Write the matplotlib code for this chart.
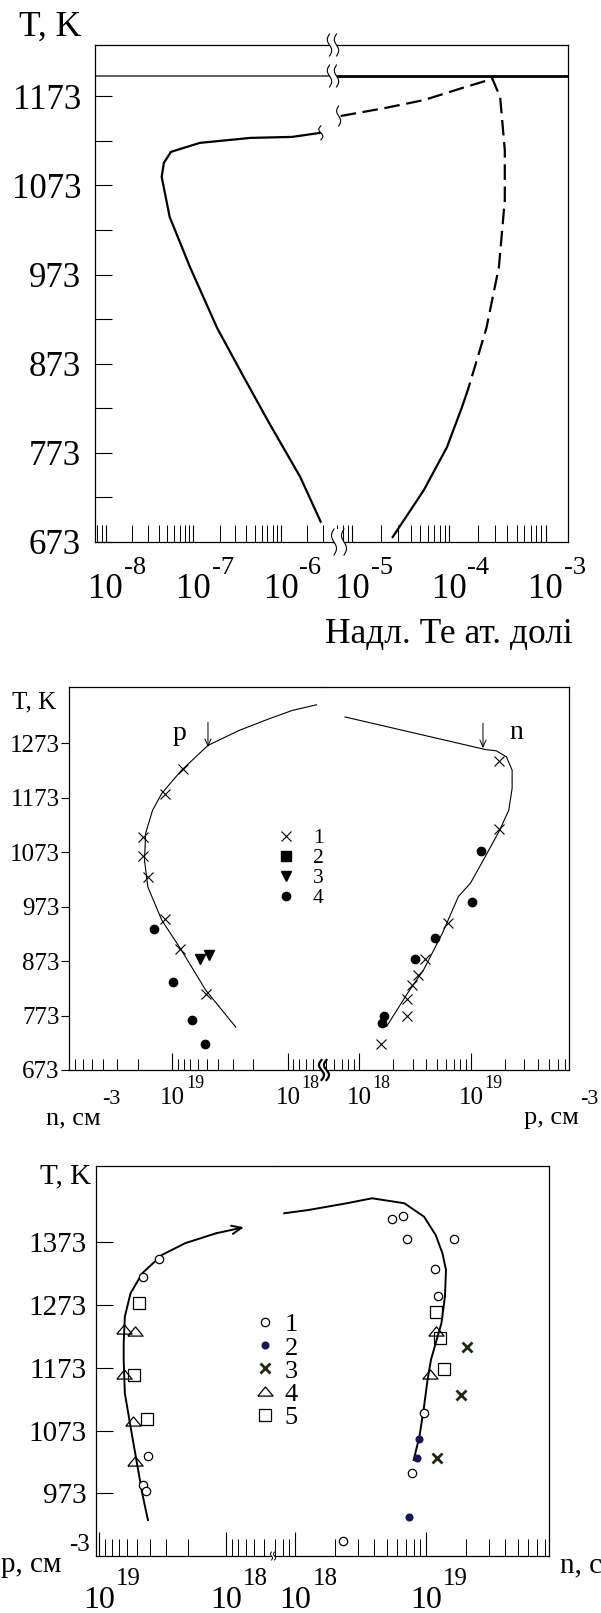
import numpy as np
import matplotlib
matplotlib.use('Agg')
import matplotlib.pyplot as plt
from matplotlib.ticker import FixedLocator, LogLocator, NullFormatter
from matplotlib.lines import Line2D
from matplotlib.patches import Polygon

plt.rcParams['font.family'] = ['Liberation Serif', 'DejaVu Serif']
plt.rcParams['mathtext.fontset'] = 'custom'
plt.rcParams['mathtext.rm'] = 'Liberation Serif'

# ---------------- data (x values stored as log10) ----------------
# Panel 1: excess Te (atomic fraction) vs T
p1_left_log = [-5.548, -5.781, -6.137, -6.427, -6.730, -7.040, -7.271, -7.362, -7.337, -7.257, -6.927, -6.348, -5.873, -5.557]
p1_left_T = [695.8, 746, 806.7, 858.3, 913.2, 981.6, 1037.7, 1082.6, 1098.3, 1110.6, 1120.7, 1126.3, 1127.4, 1131.9]
p1_dash_log = [-5.120, -5.061, -4.666, -4.260, -3.866, -3.592, -3.555, -3.472, -3.424, -3.424, -3.485, -3.614, -3.722, -3.806]
p1_dash_T = [1150.9, 1152, 1159.7, 1168.7, 1182.2, 1191.2, 1193.3, 1172, 1112.5, 1056.5, 981.3, 913, 873.7, 843.5]
p1_solid_log = [-3.806, -3.866, -4.021, -4.260, -4.582]
p1_solid_T = [843.5, 824.4, 779.5, 731.3, 678.6]
p1_hline_T = 1195.4
p1_yticks = [673, 773, 873, 973, 1073, 1173]
p1_yminor = [723, 823, 923, 1023, 1123]
p1_left_decades = [-8, -7, -6]
p1_right_decades = [-5, -4, -3]

# Panel 2: n (left, reversed) and p (right) vs T
p2_lcurve_log = [17.752, 17.962, 18.162, 18.422, 18.692, 18.922, 19.092, 19.172, 19.232, 19.242, 19.212, 19.092, 18.922, 18.712, 18.452]
p2_lcurve_T = [1343.4, 1333, 1317.7, 1296.3, 1268.8, 1223, 1180.8, 1149.7, 1107.5, 1058, 1008.5, 948, 893, 819.7, 751.9]
p2_rcurve_log = [17.873, 19.128, 19.228, 19.318, 19.369, 19.369, 19.339, 19.258, 19.128, 18.997, 18.887, 18.746, 18.576, 18.435, 18.245]
p2_rcurve_T = [1321, 1261.3, 1258.8, 1247.8, 1223.4, 1189.8, 1150, 1113.4, 1064.5, 1016.3, 991.1, 924.6, 856.8, 814.6, 752.9]
p2_x_left_log = [18.912, 19.062, 19.252, 19.252, 19.212, 19.062, 18.932, 18.712]
p2_x_left_T = [1224.7, 1179.4, 1101.1, 1065.7, 1026.7, 949.7, 895.3, 812.8]
p2_x_right_log = [19.253, 19.253, 18.797, 18.591, 18.526, 18.475, 18.425, 18.425, 18.194]
p2_x_right_T = [1239.9, 1114.7, 943.5, 876.4, 847.6, 829.3, 803.6, 771.2, 721.1]
p2_sq_log = []
p2_sq_T = []
p2_tri_left_log = [18.762, 18.682]
p2_tri_left_T = [877, 884.3]
p2_dot_left_log = [19.162, 18.992, 18.832, 18.722]
p2_dot_left_T = [932, 835.3, 765.1, 721.1]
p2_dot_right_log = [19.088, 18.204, 18.224, 18.495, 18.676, 19.009]
p2_dot_right_T = [1075.5, 759.1, 771.2, 877, 914.9, 980.9]
p2_p_arrow = (18.692, 1265.6)
p2_n_arrow = (19.108, 1263.7)
p2_p_label = (18.942, 1291)
p2_n_label = (19.408, 1293)
p2_yticks = [673, 773, 873, 973, 1073, 1173, 1273]
p2_legend = ['1', '2', '3', '4']

# Panel 3: p (left, reversed) and n (right) vs T
p3_lcurve_log = [17.859, 18.078, 18.324, 18.506, 18.661, 18.753, 18.798, 18.807, 18.807, 18.798, 18.753, 18.707, 18.661, 18.616]
p3_lcurve_T = [1396, 1386.4, 1370.5, 1351.9, 1322.8, 1291, 1253.9, 1211.6, 1185.1, 1132.2, 1079.1, 1026.2, 973.3, 930.8]
p3_rcurve_log = [17.914, 18.100, 18.392, 18.585, 18.832, 18.982, 19.071, 19.123, 19.150, 19.142, 19.115, 19.071, 19.035, 19.009, 18.982, 18.947, 18.903]
p3_rcurve_T = [1418.2, 1423.4, 1434.1, 1442, 1434.1, 1412.8, 1383.7, 1354.6, 1328.1, 1285.7, 1243.4, 1211.6, 1185.1, 1153.3, 1110.9, 1063.2, 1026.2]
p3_circ_left_log = [18.525, 18.652, 18.616, 18.652, 18.634]
p3_circ_left_T = [1345.6, 1316.5, 1032.5, 986.5, 976.9]
p3_circ_right_log = [18.736, 18.824, 18.850, 19.212, 19.063, 19.089, 18.982, 18.894, 18.365]
p3_circ_right_T = [1408.6, 1413.9, 1377.3, 1377.3, 1329.7, 1286.8, 1100.4, 1005.0, 897.5]
p3_dot_right_log = [18.947, 18.930, 18.868]
p3_dot_right_T = [1059.1, 1028.9, 935.1]
p3_x_right_log = [19.309, 19.266, 19.080]
p3_x_right_T = [1205.3, 1129.5, 1028.9]
p3_tri_left_log = [18.807, 18.716, 18.807, 18.734, 18.716]
p3_tri_left_T = [1233.9, 1231.2, 1162.8, 1088.1, 1024.6]
p3_tri_right_log = [19.071, 19.027]
p3_tri_right_T = [1231.2, 1162.8]
p3_sq_left_log = [18.688, 18.725, 18.624]
p3_sq_left_T = [1276.1, 1161.2, 1090.8]
p3_sq_right_log = [19.071, 19.106, 19.133]
p3_sq_right_T = [1261.1, 1220.5, 1170.3]
p3_yticks = [973, 1073, 1173, 1273, 1373]
p3_legend = ['1', '2', '3', '4', '5']

# ---------------- figure ----------------
W, H = 601, 1613
fig = plt.figure(figsize=(W / 100, H / 100), dpi=100)


def rect(x0, x1, y0, y1):
    return [x0 / W, 1 - y1 / H, (x1 - x0) / W, (y1 - y0) / H]


def P(x, y):
    return (x / W, 1 - y / H)


def pw(v):
    return np.power(10.0, np.asarray(v, dtype=float))


def make_pair(x0, xb, x1, y0, y1, xlimL, xlimR, ylim, decL, decR,
              maj_len, min_len, fs10, dy10, fsexp, dyexp, spine_lw=0.9):
    axL = fig.add_axes(rect(x0, xb, y0, y1))
    axR = fig.add_axes(rect(xb, x1, y0, y1))
    half = fs10 * 100 / 72 * 0.5
    for ax, lim, dec in ((axL, xlimL, decL), (axR, xlimR, decR)):
        ax.set_facecolor('none')
        ax.set_xscale('log')
        ax.set_xlim(10.0 ** lim[0], 10.0 ** lim[1])
        ax.set_ylim(*ylim)
        ax.xaxis.set_major_locator(FixedLocator([10.0 ** d for d in dec]))
        ax.xaxis.set_minor_locator(LogLocator(base=10, subs=np.arange(2, 10)))
        ax.xaxis.set_major_formatter(NullFormatter())
        ax.xaxis.set_minor_formatter(NullFormatter())
        ax.tick_params(axis='x', which='major', direction='in', length=maj_len, width=0.8, top=False)
        ax.tick_params(axis='x', which='minor', direction='in', length=min_len, width=0.7, top=False)
        for s in ax.spines.values():
            s.set_linewidth(spine_lw)
        for d in dec:
            ax.annotate('10', xy=(10.0 ** d, 0), xycoords=('data', 'axes fraction'),
                        xytext=(0, -dy10), textcoords='offset pixels',
                        ha='center', va='center', fontsize=fs10)
            ax.annotate(str(d), xy=(10.0 ** d, 0), xycoords=('data', 'axes fraction'),
                        xytext=(half + 1, -dyexp), textcoords='offset pixels',
                        ha='left', va='center', fontsize=fsexp)
    axL.spines['right'].set_visible(False)
    axR.spines['left'].set_visible(False)
    axR.tick_params(axis='y', which='both', left=False, right=False, labelleft=False)
    return axL, axR


def squiggle(xc, yc, h, lw=0.8, amp=2.0, z=6):
    t = np.linspace(-1, 1, 40)
    xs = xc + amp * np.sin(np.pi * t)
    ys = yc + t * h / 2
    fig.add_artist(Line2D(xs / W, 1 - ys / H, transform=fig.transFigure,
                          color='k', lw=lw, zorder=z))


def brk(xc, yc, h, gap, lw=0.8, amp=2.0):
    t = np.linspace(-1, 1, 40)
    xs = amp * np.sin(np.pi * t)
    ys = yc + t * h / 2
    x1 = xc - gap / 2 + xs
    x2 = xc + gap / 2 + xs
    verts = np.concatenate([np.column_stack([x1 / W, 1 - ys / H]),
                            np.column_stack([x2[::-1] / W, 1 - ys[::-1] / H])])
    fig.add_artist(Polygon(verts, closed=True, transform=fig.transFigure,
                           facecolor='white', edgecolor='none', zorder=5))
    squiggle(xc - gap / 2, yc, h, lw, amp)
    squiggle(xc + gap / 2, yc, h, lw, amp)


def data_px(ax, lx, T):
    d = ax.transData.transform((10.0 ** lx, T))
    return d[0], H - d[1]


# ================= Panel 1 =================
a1L, a1R = make_pair(95, 333, 568, 45, 542,
                     (-8.123, -5.407), (-5.199, -2.771), (673, 1230.5),
                     p1_left_decades, p1_right_decades,
                     12, 12, 25, 48, 19, 26)
a1L.set_yticks(p1_yticks)
a1L.set_yticks(p1_yminor, minor=True)
a1L.set_yticklabels([str(v) for v in p1_yticks], fontsize=25)
a1L.tick_params(axis='y', which='both', direction='in', length=12, width=0.8, pad=10, right=False)

a1L.plot(pw(p1_left_log), p1_left_T, color='k', lw=1.6, solid_joinstyle='round')
a1R.plot(pw(p1_dash_log), p1_dash_T, color='k', lw=1.6, dashes=(7, 3))
a1R.plot(pw(p1_solid_log), p1_solid_T, color='k', lw=1.6, solid_joinstyle='round')
a1L.axhline(p1_hline_T, color='#333333', lw=1.1)
a1R.axhline(p1_hline_T, color='k', lw=2.0)

fig.text(*P(50, 27), 'T, K', fontsize=25.5, ha='center', va='center')
fig.text(*P(449, 635), 'Надл. Те ат. долі', fontsize=25.5, ha='center', va='center')

brk(333, 45, 22, 7, 0.8, 2.2)
brk(333, 76, 22, 7, 0.8, 2.2)
brk(339, 542, 26, 10, 0.8, 2.5)
ex, ey = data_px(a1L, p1_left_log[-1], p1_left_T[-1])
squiggle(ex + 1, ey, 14, 0.8, 2.0)
sx, sy = data_px(a1R, p1_dash_log[0], p1_dash_T[0])
squiggle(sx - 2, sy, 20, 0.8, 2.0)

# ================= Panel 2 =================
a2L, a2R = make_pair(69.3, 321.6, 569.3, 687, 1070,
                     (19.893, 17.708), (17.663, 19.881), (673, 1376),
                     [19, 18], [18, 19],
                     12, 8, 18, 28, 13, 13)
a2L.set_yticks(p2_yticks)
a2L.set_yticklabels([str(v) for v in p2_yticks], fontsize=18)
a2L.tick_params(axis='y', which='both', direction='out', length=6, width=0.8, pad=1, right=False)

a2L.plot(pw(p2_lcurve_log), p2_lcurve_T, color='k', lw=0.8)
a2R.plot(pw(p2_rcurve_log), p2_rcurve_T, color='k', lw=0.8)
h1, = a2L.plot(pw(p2_x_left_log), p2_x_left_T, ls='none', marker='x', ms=7.5, mew=0.8, color='k')
a2R.plot(pw(p2_x_right_log), p2_x_right_T, ls='none', marker='x', ms=7.5, mew=0.8, color='k')
h2, = a2L.plot(pw(p2_sq_log), p2_sq_T, ls='none', marker='s', ms=7, color='k')
h3, = a2L.plot(pw(p2_tri_left_log), p2_tri_left_T, ls='none', marker='v', ms=7.5, color='k')
h4, = a2L.plot(pw(p2_dot_left_log), p2_dot_left_T, ls='none', marker='o', ms=6, color='k')
a2R.plot(pw(p2_dot_right_log), p2_dot_right_T, ls='none', marker='o', ms=6, color='k')

arrow_style = dict(arrowstyle='->,head_length=0.5,head_width=0.22', lw=0.7, color='k',
                   shrinkA=0, shrinkB=0)
a2L.annotate('', xy=(10.0 ** p2_p_arrow[0], p2_p_arrow[1]), xytext=(0, 25),
             textcoords='offset pixels', arrowprops=arrow_style)
a2R.annotate('', xy=(10.0 ** p2_n_arrow[0], p2_n_arrow[1]), xytext=(0, 25),
             textcoords='offset pixels', arrowprops=arrow_style)
a2L.text(10.0 ** p2_p_label[0], p2_p_label[1], 'p', fontsize=20, ha='center', va='center')
a2R.text(10.0 ** p2_n_label[0], p2_n_label[1], 'n', fontsize=20, ha='center', va='center')

leg2 = a2L.legend([h1, h2, h3, h4], p2_legend, loc='upper left',
                  bbox_to_anchor=P(274, 828), bbox_transform=fig.transFigure,
                  frameon=False, borderpad=0, borderaxespad=0, handlelength=1.15,
                  handletextpad=0.65, labelspacing=0.0, fontsize=15.5, numpoints=1)

fig.text(*P(34, 702), 'T, K', fontsize=18, ha='center', va='center')
fig.text(*P(46, 1124), 'n, см', fontsize=19, ha='left', va='baseline')
fig.text(*P(111, 1100), '-3', fontsize=16, ha='center', va='center')
fig.text(*P(524, 1124), 'p, см', fontsize=19, ha='left', va='baseline')
fig.text(*P(589, 1100), '-3', fontsize=16, ha='center', va='center')

brk(324, 1070, 20, 5, 1.6, 2.5)

# ================= Panel 3 =================
a3L, a3R = make_pair(96.3, 272.7, 549, 1166, 1556,
                     (19.023, 17.632), (17.826, 19.937), (873.6, 1493.3),
                     [19, 18], [18, 19],
                     17, 12, 23, 44, 18, 23)
a3L.set_yticks(p3_yticks)
a3L.set_yticklabels([str(v) for v in p3_yticks], fontsize=21)
a3L.tick_params(axis='y', which='both', direction='in', length=12, width=0.8, pad=7, right=False)

a3L.plot(pw(p3_lcurve_log[1:]), p3_lcurve_T[1:], color='k', lw=1.4, solid_joinstyle='round')
a3L.annotate('', xy=(10.0 ** p3_lcurve_log[0], p3_lcurve_T[0]),
             xytext=(10.0 ** p3_lcurve_log[1], p3_lcurve_T[1]),
             arrowprops=dict(arrowstyle='->,head_length=0.7,head_width=0.3', lw=1.4,
                             color='k', shrinkA=0, shrinkB=0))
a3R.plot(pw(p3_rcurve_log), p3_rcurve_T, color='k', lw=1.4, solid_joinstyle='round')

tri_marker = [(-1, -0.6), (1, -0.6), (0, 0.6), (-1, -0.6)]
g1, = a3L.plot(pw(p3_circ_left_log), p3_circ_left_T, ls='none', marker='o', ms=6,
               mfc='white', mec='k', mew=0.9)
a3R.plot(pw(p3_circ_right_log), p3_circ_right_T, ls='none', marker='o', ms=6,
         mfc='white', mec='k', mew=0.9)
g2, = a3R.plot(pw(p3_dot_right_log), p3_dot_right_T, ls='none', marker='o', ms=4.8,
               color='#15155a')
g3, = a3R.plot(pw(p3_x_right_log), p3_x_right_T, ls='none', marker='x', ms=7.5,
               mew=2.0, color='#1e2a12')
g4, = a3L.plot(pw(p3_tri_left_log), p3_tri_left_T, ls='none', marker=tri_marker, ms=11,
               mfc='none', mec='k', mew=0.9)
a3R.plot(pw(p3_tri_right_log), p3_tri_right_T, ls='none', marker=tri_marker, ms=11,
         mfc='none', mec='k', mew=0.9)
g5, = a3L.plot(pw(p3_sq_left_log), p3_sq_left_T, ls='none', marker='s', ms=8.5,
               mfc='none', mec='k', mew=0.9)
a3R.plot(pw(p3_sq_right_log), p3_sq_right_T, ls='none', marker='s', ms=8.5,
         mfc='none', mec='k', mew=0.9)

leg3 = a3L.legend([g1, g2, g3, g4, g5], p3_legend, loc='upper left',
                  bbox_to_anchor=P(252, 1313), bbox_transform=fig.transFigure,
                  frameon=False, borderpad=0, borderaxespad=0, handlelength=1.0,
                  handletextpad=0.24, labelspacing=-0.015, fontsize=19, numpoints=1)

fig.text(*P(65.5, 1176), 'T, K', fontsize=21, ha='center', va='center')
fig.text(*P(1, 1572), 'p, см', fontsize=21, ha='left', va='baseline')
fig.text(*P(80, 1545), '-3', fontsize=18, ha='center', va='center')
fig.text(*P(560, 1572), 'n, см', fontsize=21, ha='left', va='baseline')

brk(273, 1556, 8, 3, 0.7, 1.0)

fig.savefig('out.png', dpi=100)
